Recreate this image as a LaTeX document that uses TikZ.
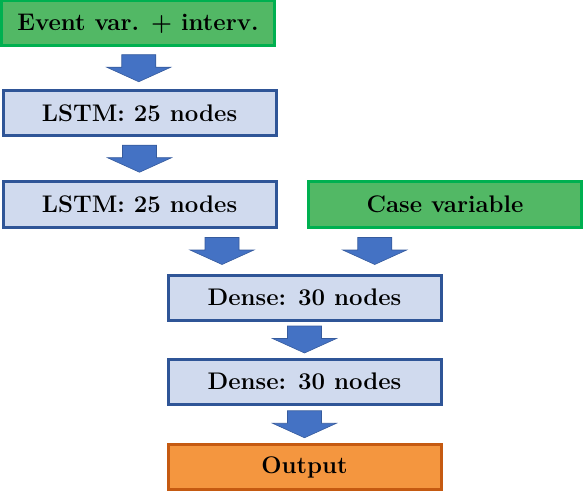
\documentclass[tikz,border=0pt]{standalone}
\usepackage{tikz}
\usetikzlibrary{calc}

\definecolor{boxblue}{HTML}{D0DAEE}
\definecolor{lineblue}{HTML}{2F5597}
\definecolor{arrowblue}{HTML}{4472C4}
\definecolor{boxgreen}{HTML}{52B865}
\definecolor{linegreen}{HTML}{00B050}
\definecolor{boxorange}{HTML}{F4963F}
\definecolor{lineorange}{HTML}{C55A11}

\begin{document}
\begin{tikzpicture}[
        x=1pt, y=1pt,
        layer/.style={rectangle, draw=lineblue, fill=boxblue, line width=3pt, minimum width=273pt, minimum height=45pt, inner sep=0pt, font=\fontsize{24}{24}\selectfont\bfseries},
        inputbox/.style={layer, draw=linegreen, fill=boxgreen},
        outputbox/.style={layer, draw=lineorange, fill=boxorange},
        pics/downarrow/.style={code={
            \filldraw[fill=arrowblue, draw=arrowblue!80!black, line width=0.6pt]
                (-17,13.5) -- (17,13.5) -- (17,1) -- (32,1) -- (0,-13.5) -- (-32,1) -- (-17,1) -- cycle;
        }}
    ]
    \useasboundingbox (0,0) rectangle (584,-492);

    % Inputs
    \node[inputbox] (ev) at (138, -23.5) {Event var. + interv.};
    \node[inputbox] (cv) at (445, -204.5) {Case variable};

    % LSTM layers
    \node[layer] (l1) at (139.5, -113) {LSTM: 25 nodes};
    \node[layer] (l2) at (139.5, -204.5) {LSTM: 25 nodes};

    % Dense layers
    \node[layer] (d1) at (304.5, -297.5) {Dense: 30 nodes};
    \node[layer] (d2) at (304.5, -381.5) {Dense: 30 nodes};

    % Output
    \node[outputbox] (out) at (304.5, -467) {Output};

    % Arrows
    \pic at ($(ev.south)!.5!(l1.north)$) {downarrow};
    \pic at ($(l1.south)!.5!(l2.north)$) {downarrow};
    \pic at ($(l2.south)!.5!(d1.north)$) {downarrow};
    \pic at ($(cv.south)!.5!(d1.north)$) {downarrow};
    \pic at ($(d1.south)!.5!(d2.north)$) {downarrow};
    \pic at ($(d2.south)!.5!(out.north)$) {downarrow};

\end{tikzpicture}
\end{document}
